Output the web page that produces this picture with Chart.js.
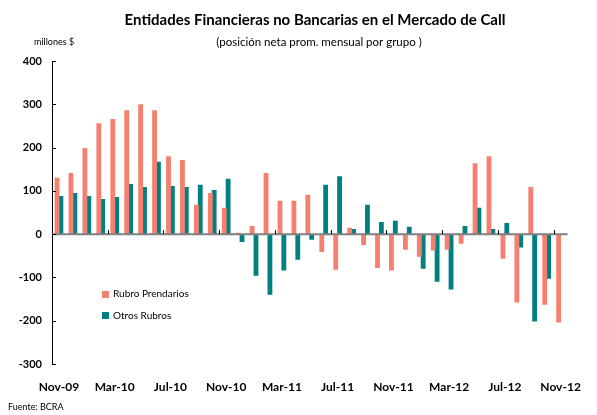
<!DOCTYPE html>
<html>
<head>
<meta charset="UTF-8">
<title>Entidades Financieras no Bancarias en el Mercado de Call</title>
<script src="https://cdn.jsdelivr.net/npm/chart.js@4.4.0/dist/chart.umd.min.js"></script>
<style>
  html, body { margin: 0; padding: 0; background: #fff; }
  #wrap { width: 597px; height: 415px; position: relative; }
</style>
</head>
<body>
<div id="wrap"><canvas id="callChart" width="597" height="415"></canvas></div>
<script>
// months Nov-09 .. Nov-12
const months = [
  'Nov-09','Dic-09','Ene-10','Feb-10','Mar-10','Abr-10','May-10','Jun-10','Jul-10','Ago-10','Sep-10','Oct-10',
  'Nov-10','Dic-10','Ene-11','Feb-11','Mar-11','Abr-11','May-11','Jun-11','Jul-11','Ago-11','Sep-11','Oct-11',
  'Nov-11','Dic-11','Ene-12','Feb-12','Mar-12','Abr-12','May-12','Jun-12','Jul-12','Ago-12','Sep-12','Oct-12',
  'Nov-12'
];
const prendarios = [
  130, 141, 199, 256, 266, 286, 300, 286, 180, 171, 68, 95,
  61, 3, 19, 141, 77, 77, 91, -41, -82, 15, -25, -78,
  -84, -36, -52, -38, -36, -22, 164, 180, -57, -158, 109, -163,
  -204
];
const otros = [
  88, 95, 88, 81, 86, 116, 109, 167, 111, 109, 114, 102,
  128, -18, -96, -140, -84, -59, -13, 114, 134, 12, 68, 28,
  31, 17, -80, -110, -128, 19, 61, 12, 26, -31, -202, -103,
  -2
];
const yTicks = [400, 300, 200, 100, 0, -100, -200, -300];

const pink = '#F5806F';
const teal = '#008080';
const FONT = 'Lato, "Open Sans", sans-serif';

const decorations = {
  id: 'decorations',
  afterDatasetsDraw(chart) {
    const ctx = chart.ctx;
    const x = chart.scales.x, y = chart.scales.y;
    const area = chart.chartArea;
    ctx.save();
    // zero line
    const y0 = y.getPixelForValue(0);
    ctx.strokeStyle = '#808080';
    ctx.lineWidth = 2;
    ctx.beginPath();
    ctx.moveTo(area.left, y0);
    ctx.lineTo(area.right, y0);
    ctx.stroke();
    // small x ticks every 4 months
    ctx.strokeStyle = '#000';
    ctx.lineWidth = 1;
    for (let i = 4; i < months.length; i += 4) {
      const px = Math.round((x.getPixelForValue(i - 1) + x.getPixelForValue(i)) / 2) + 0.5;
      ctx.beginPath();
      ctx.moveTo(px, y0 - 4);
      ctx.lineTo(px, y0);
      ctx.stroke();
    }
    // inward y ticks
    yTicks.forEach(v => {
      const py = Math.round(y.getPixelForValue(v)) + 0.5;
      ctx.beginPath();
      ctx.moveTo(area.left, py);
      ctx.lineTo(area.left + 4, py);
      ctx.stroke();
    });
    ctx.restore();
  },
  afterDraw(chart) {
    const ctx = chart.ctx;
    ctx.save();
    ctx.fillStyle = '#000';
    ctx.textBaseline = 'middle';
    ctx.textAlign = 'center';
    ctx.font = 'bold 15px ' + FONT;
    ctx.fillText('Entidades Financieras no Bancarias en el Mercado de Call', 315, 20);
    ctx.font = '11.5px ' + FONT;
    ctx.fillText('(posición neta prom. mensual por grupo )', 319, 42);
    ctx.textAlign = 'left';
    ctx.font = '9px ' + FONT;
    ctx.fillText('millones $', 34, 42);
    ctx.fillText('Fuente: BCRA', 8, 407);
    // legend
    ctx.font = '10px ' + FONT;
    ctx.fillStyle = pink;
    ctx.fillRect(102, 291, 7, 7);
    ctx.fillStyle = teal;
    ctx.fillRect(102, 312, 7, 7);
    ctx.fillStyle = '#000';
    ctx.fillText('Rubro Prendarios', 113, 294);
    ctx.fillText('Otros Rubros', 113, 316);
    ctx.restore();
  }
};

new Chart(document.getElementById('callChart'), {
  type: 'bar',
  data: {
    labels: months,
    datasets: [
      { label: 'Rubro Prendarios', data: prendarios, backgroundColor: pink,
        categoryPercentage: 0.555, barPercentage: 1.25 },
      { label: 'Otros Rubros', data: otros, backgroundColor: teal,
        categoryPercentage: 0.555, barPercentage: 1.25 }
    ]
  },
  options: {
    responsive: false,
    animation: false,
    layout: { padding: { left: 0, right: 12, top: 61, bottom: 0 } },
    plugins: { legend: { display: false }, tooltip: { enabled: false } },
    scales: {
      x: {
        grid: { display: false, drawTicks: false },
        border: { display: false },
        afterFit(scale) { scale.height = 51; },
        ticks: {
          autoSkip: false, maxRotation: 0, minRotation: 0, padding: 16,
          color: '#000', font: { family: FONT, size: 12, weight: 'bold' },
          callback(v, i) { return i % 4 === 0 ? months[i] : ''; }
        }
      },
      y: {
        min: -300, max: 400,
        afterFit(scale) { scale.width = 52; },
        grid: { display: false, drawTicks: false },
        border: { display: true, color: '#000', width: 1 },
        ticks: {
          stepSize: 100, padding: 10, color: '#000',
          font: { family: FONT, size: 11, weight: 'bold' }
        }
      }
    }
  },
  plugins: [decorations]
});
</script>
</body>
</html>
